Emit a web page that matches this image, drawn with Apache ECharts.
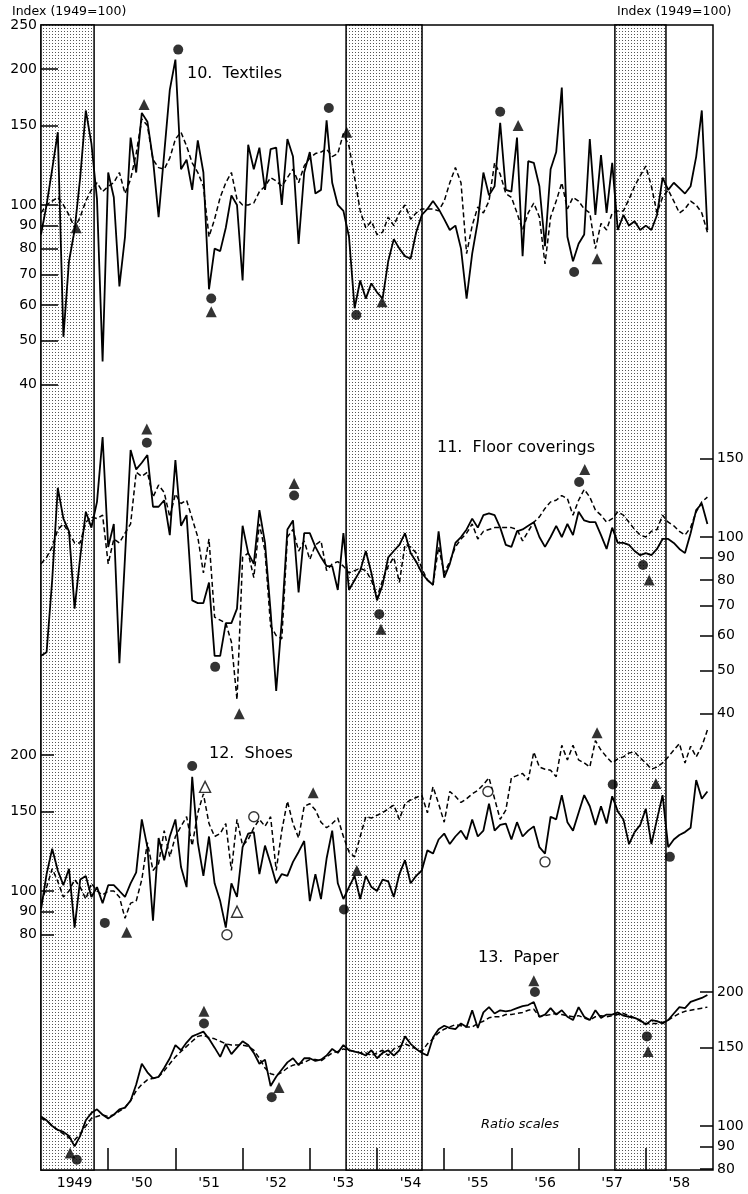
<!DOCTYPE html>
<html>
<head>
<meta charset="utf-8">
<script src="https://cdn.jsdelivr.net/npm/echarts@6/dist/echarts.min.js"></script>
<style>
html, body { margin: 0; padding: 0; background: #fff; }
#main { width: 748px; height: 1194px; }
</style>
</head>
<body>
<div id="main"></div>
<script>
// monthly index values (1949=100), first value = Jan 1949
var textilesSolid = [
    86, 100, 120, 145, 51, 75, 88, 115, 162, 137,
    103, 45, 118, 104, 66, 85, 141, 118, 160, 153,
    126, 94, 130, 180, 210, 120, 126, 108, 139, 118,
    65, 80, 79, 89, 105, 100, 68, 136, 120, 134,
    108, 133, 134, 100, 140, 128, 82, 118, 131, 106,
    108, 154, 112, 100, 97, 85, 59, 68, 62, 67,
    64, 62, 75, 84, 80, 77, 76, 87, 95, 98,
    102, 98, 93, 88, 90, 80, 62, 78, 92, 118,
    105, 110, 152, 108, 107, 141, 77, 125, 124, 110,
    81, 120, 131, 182, 85, 75, 82, 86, 140, 95,
    129, 96, 124, 88, 95, 90, 92, 88, 90, 88,
    95, 115, 108, 112, 109, 106, 110, 128, 162, 88
];
var textilesDashed = [
    96, 100, 102, 104, 100, 95, 89, 94, 102, 108,
    112, 107, 110, 112, 118, 106, 114, 130, 155, 150,
    126, 121, 120, 127, 140, 145, 135, 124, 118, 110,
    85, 93, 104, 112, 118, 103, 100, 100, 101, 107,
    110, 115, 113, 110, 115, 120, 112, 122, 127, 130,
    131, 133, 128, 130, 144, 135, 115, 97, 89, 92,
    86, 87, 94, 90, 96, 100, 93, 96, 98, 98,
    98, 97, 102, 112, 121, 112, 78, 90, 99, 96,
    102, 124, 117, 106, 104, 96, 88, 96, 101, 94,
    74, 94, 102, 112, 98, 104, 102, 98, 96, 80,
    91, 88, 96, 97, 97, 103, 110, 116, 122, 110,
    96, 104, 108, 102, 96, 98, 102, 100, 96, 87
];
var floorSolid = [
    54, 55, 80, 129, 110, 103, 69, 90, 114, 105,
    120, 168, 95, 107, 52, 90, 157, 142, 147, 153,
    117, 117, 121, 101, 149, 106, 112, 72, 71, 71,
    79, 54, 54, 64, 64, 69, 106, 92, 87, 115,
    97, 68, 45, 65, 104, 109, 75, 102, 102, 95,
    90, 86, 86, 76, 102, 76, 80, 84, 93, 83,
    72, 78, 90, 93, 96, 102, 92, 88, 83, 80,
    78, 103, 81, 87, 97, 100, 104, 110, 105, 112,
    113, 112, 105, 96, 95, 103, 104, 106, 108, 100,
    95, 100, 106, 100, 107, 101, 114, 109, 108, 108,
    101, 94, 105, 97, 97, 96, 93, 91, 92, 91,
    94, 99, 99, 97, 94, 92, 102, 115, 119, 107
];
var floorDashed = [
    87, 90, 95, 104, 107, 102, 97, 97, 108, 111,
    110, 112, 87, 99, 97, 102, 107, 140, 137, 140,
    123, 131, 126, 111, 125, 119, 121, 110, 100, 83,
    99, 66, 65, 64, 58, 43, 90, 92, 81, 107,
    93, 63, 60, 59, 100, 104, 93, 98, 89, 96,
    98, 84, 87, 88, 86, 83, 84, 85, 84, 80,
    73, 80, 86, 90, 79, 96, 95, 92, 85, 80,
    78, 95, 83, 88, 95, 99, 102, 107, 99, 103,
    104, 105, 105, 105, 105, 104, 98, 103, 108, 111,
    116, 120, 121, 124, 122, 112, 121, 128, 123, 115,
    112, 108, 110, 114, 112, 108, 104, 101, 100, 103,
    104, 112, 108, 106, 103, 101, 105, 114, 120, 123
];
var shoesSolid = [
    91, 109, 124, 111, 103, 112, 83, 106, 108, 97,
    102, 94, 103, 103, 100, 97, 104, 110, 144, 125,
    86, 131, 117, 132, 144, 113, 102, 179, 128, 108,
    132, 104, 95, 83, 104, 97, 125, 134, 135, 109,
    126, 115, 104, 109, 108, 116, 122, 129, 95, 109,
    96, 118, 136, 104, 96, 102, 108, 96, 108, 102,
    100, 106, 105, 97, 109, 117, 104, 108, 111, 123,
    121, 130, 134, 127, 132, 136, 130, 144, 132, 136,
    156, 136, 140, 141, 130, 142, 132, 136, 139, 125,
    121, 146, 144, 163, 142, 136, 149, 163, 154, 140,
    154, 141, 162, 150, 144, 127, 135, 140, 152, 127,
    144, 163, 125, 130, 133, 135, 138, 176, 160, 166
];
var shoesDashed = [
    94, 102, 112, 105, 97, 100, 106, 102, 96, 104,
    100, 98, 100, 100, 97, 87, 94, 95, 106, 128,
    111, 115, 136, 119, 132, 139, 146, 126, 149, 164,
    141, 132, 134, 141, 111, 144, 126, 130, 138, 144,
    139, 146, 111, 136, 158, 141, 131, 154, 156, 151,
    142, 138, 141, 145, 132, 122, 119, 132, 146, 145,
    147, 149, 152, 155, 144, 156, 159, 161, 163, 149,
    170, 156, 142, 166, 162, 157, 160, 164, 167, 172,
    178, 160, 144, 151, 178, 180, 182, 176, 203, 188,
    186, 185, 179, 210, 195, 210, 195, 192, 188, 215,
    205, 198, 192, 196, 198, 202, 203, 197, 192, 186,
    188, 192, 198, 205, 212, 192, 209, 198, 209, 227
];
var paperSolid = [
    105, 103, 100, 98, 97, 95, 90, 95, 103, 107,
    109, 106, 104, 106, 109, 110, 114, 124, 138, 132,
    128, 129, 135, 142, 152, 148, 154, 159, 161, 163,
    157, 150, 143, 153, 145, 150, 155, 152, 146, 138,
    141, 123, 129, 134, 139, 142, 137, 142, 142, 140,
    141, 144, 149, 146, 152, 148, 147, 146, 144, 148,
    142, 146, 148, 144, 148, 159, 153, 149, 146, 144,
    158, 165, 168, 166, 165, 170, 167, 182, 166, 180,
    185, 179, 182, 181, 182, 184, 186, 187, 190, 176,
    178, 184, 178, 182, 176, 173, 185, 176, 173, 182,
    175, 178, 178, 180, 177, 176, 175, 173, 169, 173,
    172, 170, 173, 179, 185, 184, 190, 192, 194, 197
];
var paperDashed = [
    104, 103, 100, 98, 96, 94, 93, 96, 100, 104,
    105, 106, 105, 106, 108, 110, 114, 120, 124, 127,
    128, 129, 133, 138, 143, 147, 151, 155, 159, 160,
    158, 157, 155, 153, 152, 152, 152, 151, 148, 142,
    135, 131, 130, 132, 135, 137, 138, 139, 141, 141,
    140, 143, 146, 147, 149, 148, 147, 146, 146, 144,
    146, 148, 144, 149, 151, 153, 151, 149, 147, 153,
    157, 162, 165, 167, 169, 168, 167, 167, 170, 172,
    175, 176, 176, 178, 178, 179, 180, 182, 183, 176,
    177, 178, 179, 178, 177, 176, 177, 175, 173, 176,
    177, 176, 177, 178, 179, 177, 175, 172, 170, 170,
    170, 171, 173, 176, 179, 181, 182, 183, 184, 185
];

// turning point markers: [month since Jan 1949, index]
var textilesDots = [[24.5, 221], [30.4, 62], [51.4, 164], [56.3, 57], [82, 161], [95.2, 71]];
var textilesTris = [[6.3, 89], [18.4, 167], [30.4, 58], [54.6, 145], [60.9, 61], [85.2, 150], [99.3, 76]];
var floorDots = [[18.9, 163], [31.1, 51], [45.2, 124], [60.4, 67], [96.1, 133], [107.5, 86.5]];
var floorTris = [[18.9, 175], [35.4, 40], [45.2, 132], [60.7, 62], [97.1, 142], [108.6, 80]];
var shoesDots = [[11.4, 85], [27, 189], [54.1, 91], [102.1, 172], [112.3, 119]];
var shoesTris = [[15.3, 81], [48.6, 165], [56.4, 111], [99.3, 224], [109.8, 173]];
var shoesRings = [[33.2, 80], [38, 146], [79.8, 166], [90, 116]];
var shoesOpenTris = [[29.3, 170], [35, 90]];
var paperDots = [[6.4, 84], [29.1, 170], [41.2, 116], [88.2, 200], [108.2, 159]];
var paperTris = [[5.2, 87], [29.1, 181], [42.5, 122], [88, 212], [108.4, 147]];

var recessions = [[1949.0, 1949.79], [1953.54, 1954.67], [1957.54, 1958.3]];
var yearTicks = [1950, 1951, 1952, 1953, 1954, 1955, 1956, 1957, 1958];
var yearLabels = [1949.5, 1950.5, 1951.5, 1952.5, 1953.5, 1954.5, 1955.5, 1956.5, 1957.5, 1958.5];

var textilesTicks = [40, 50, 60, 70, 80, 90, 100, 150, 200];
var textilesLabels = [40, 50, 60, 70, 80, 90, 100, 150, 200, 250];
var floorTicks = [40, 50, 60, 70, 80, 90, 100, 150];
var shoesTicks = [80, 90, 100, 150, 200];
var paperTicks = [80, 90, 100, 150, 200];

var font = 'DejaVu Sans';

function monthly(arr) {
    return arr.map(function (v, i) { return [1949 + i / 12, v]; });
}
function marks(arr) {
    return arr.map(function (p) { return [1949 + p[0] / 12, p[1]]; });
}

// stipple for the shaded periods
var dots = document.createElement('canvas');
dots.width = 3;
dots.height = 3;
var g = dots.getContext('2d');
g.fillStyle = '#fff';
g.fillRect(0, 0, 3, 3);
g.fillStyle = '#555';
g.fillRect(1, 1, 1, 1);

function logAxis(pos, min, max, ticks, labels, tickLen) {
    return {
        type: 'log',
        logBase: 10,
        position: pos,
        min: min,
        max: max,
        z: 10,
        axisLine: { show: false },
        splitLine: { show: false },
        axisTick: {
            show: true, inside: true, length: tickLen,
            customValues: ticks,
            lineStyle: { color: '#000', width: 1.5 }
        },
        axisLabel: {
            show: true, customValues: labels, margin: 4,
            color: '#000', fontSize: 14, fontFamily: font,
            formatter: function (v) { return String(Math.round(v)); }
        }
    };
}

function lineSeries(data, axis, dashed) {
    return {
        type: 'line',
        yAxisIndex: axis,
        data: monthly(data),
        symbol: 'none',
        silent: true,
        z: 3,
        lineStyle: {
            color: '#000',
            width: dashed ? 1.5 : 1.8,
            type: dashed ? [5, 3] : 'solid'
        }
    };
}

function markerSeries(data, axis, symbol, open) {
    return {
        type: 'scatter',
        yAxisIndex: axis,
        data: marks(data),
        symbol: symbol,
        symbolSize: symbol === 'triangle' ? 11 : 10,
        silent: true,
        z: 4,
        itemStyle: {
            color: open ? '#fff' : '#000',
            borderColor: '#000',
            borderWidth: open ? 1.4 : 0
        }
    };
}

function label(text, x, y, size, style) {
    return {
        type: 'text', left: x, top: y,
        style: { text: text, fill: '#000', font: (style || '') + ' ' + size + 'px "' + font + '"' }
    };
}

var myChart = echarts.init(document.getElementById('main'));

var option = {
    animation: false,
    backgroundColor: '#fff',
    grid: {
        left: 41, right: 35, top: 25, bottom: 24,
        show: true, borderColor: '#000', borderWidth: 1.5
    },
    xAxis: {
        type: 'value',
        min: 1949,
        max: 1959,
        z: 10,
        axisLine: { show: false },
        splitLine: { show: false },
        axisTick: {
            show: true, inside: true, length: 22,
            customValues: yearTicks,
            lineStyle: { color: '#000', width: 1.5 }
        },
        axisLabel: {
            customValues: yearLabels, margin: 6,
            color: '#000', fontSize: 14, fontFamily: font,
            formatter: function (v) {
                var y = Math.floor(v);
                return y === 1949 ? '1949' : "'" + String(y).slice(2);
            }
        }
    },
    yAxis: [
        logAxis('left', 0.7249, 250.6, textilesTicks, textilesLabels, 17),
        logAxis('right', 3.753, 1423, floorTicks, floorTicks, 13),
        logAxis('left', 24.14, 8240, shoesTicks, shoesTicks, 13),
        logAxis('right', 79.64, 29800, paperTicks, paperTicks, 13)
    ],
    graphic: [
        label('Index (1949=100)', 12, 5, 12.5),
        label('Index (1949=100)', 617, 5, 12.5),
        label('10.  Textiles', 187, 66, 16),
        label('11.  Floor coverings', 437, 440, 16),
        label('12.  Shoes', 209, 746, 16),
        label('13.  Paper', 478, 950, 16),
        label('Ratio scales', 481, 1118, 13, 'italic')
    ],
    series: [
        {
            type: 'line',
            yAxisIndex: 0,
            data: [],
            z: 1,
            silent: true,
            markArea: {
                silent: true,
                itemStyle: {
                    color: { image: dots, repeat: 'repeat' },
                    borderColor: '#000',
                    borderWidth: 1.5
                },
                data: recessions.map(function (r) {
                    return [{ xAxis: r[0] }, { xAxis: r[1] }];
                })
            }
        },
        lineSeries(textilesSolid, 0, false),
        lineSeries(textilesDashed, 0, true),
        lineSeries(floorSolid, 1, false),
        lineSeries(floorDashed, 1, true),
        lineSeries(shoesSolid, 2, false),
        lineSeries(shoesDashed, 2, true),
        lineSeries(paperSolid, 3, false),
        lineSeries(paperDashed, 3, true),
        markerSeries(textilesDots, 0, 'circle', false),
        markerSeries(textilesTris, 0, 'triangle', false),
        markerSeries(floorDots, 1, 'circle', false),
        markerSeries(floorTris, 1, 'triangle', false),
        markerSeries(shoesDots, 2, 'circle', false),
        markerSeries(shoesTris, 2, 'triangle', false),
        markerSeries(shoesRings, 2, 'circle', true),
        markerSeries(shoesOpenTris, 2, 'triangle', true),
        markerSeries(paperDots, 3, 'circle', false),
        markerSeries(paperTris, 3, 'triangle', false)
    ]
};

myChart.setOption(option);
</script>
</body>
</html>
